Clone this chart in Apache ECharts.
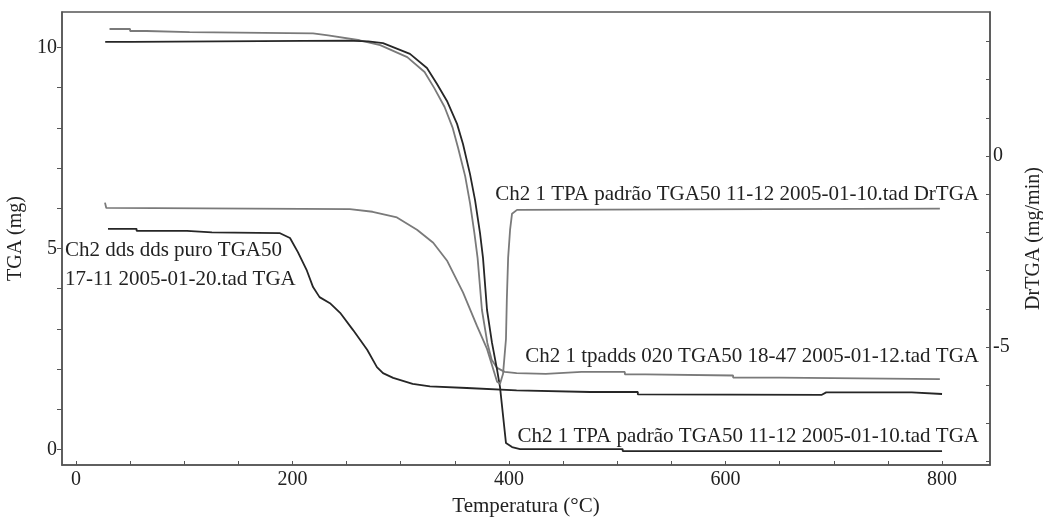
<!DOCTYPE html>
<html>
<head>
<meta charset="utf-8">
<script src="https://cdn.jsdelivr.net/npm/echarts@6/dist/echarts.min.js"></script>
<style>
  html, body { margin: 0; padding: 0; background: #fff; }
  #chart { width: 1043px; height: 518px; }
</style>
</head>
<body>
<div id="chart"></div>
<script>
// Ch2 1 tpadds 020 TGA (mg)
var tpaddsTemp = [31, 50, 50, 65, 65, 105, 105, 219, 219, 233, 262, 281, 306, 322, 331, 340.5, 348, 353, 359.5, 364, 368, 371, 375, 380, 384, 389, 396, 407, 434, 467, 507, 507, 526, 526, 607, 607, 650, 650, 798];
var tpaddsMass = [10.46, 10.46, 10.41, 10.41, 10.38, 10.38, 10.35, 10.35, 10.31, 10.30, 10.18, 10.06, 9.76, 9.39, 8.99, 8.52, 8.0, 7.5, 6.80, 6.13, 5.39, 4.76, 3.47, 2.65, 2.23, 2.03, 1.93, 1.90, 1.88, 1.93, 1.93, 1.87, 1.87, 1.84, 1.84, 1.79, 1.79, 1.75, 1.75];
// Ch2 1 TPA padrão TGA (mg)
var tpaTemp = [27, 51.5, 51.5, 250, 270, 283.6, 308.5, 324.2, 333.5, 342.7, 352, 357.5, 364, 368.6, 373.2, 376, 379.7, 384.3, 389, 391.7, 397.2, 402.8, 410.2, 505, 505, 800];
var tpaMass = [10.14, 10.14, 10.18, 10.17, 10.15, 10.11, 9.84, 9.49, 9.09, 8.67, 8.10, 7.60, 6.85, 6.21, 5.39, 4.76, 3.47, 2.65, 1.98, 1.55, 0.16, 0.06, 0.01, 0.01, -0.04, -0.04];
// Ch2 dds dds puro TGA (mg)
var ddsTemp = [29.6, 56, 56, 102.5, 102.5, 125.6, 125.6, 188.5, 197.7, 205, 213, 219, 225, 234.6, 244, 256, 269, 278, 283.6, 293, 311, 327, 361, 407, 475, 519, 519, 689, 693, 772, 772, 800];
var ddsMass = [5.49, 5.49, 5.44, 5.44, 5.40, 5.40, 5.38, 5.38, 5.26, 4.91, 4.47, 4.04, 3.79, 3.64, 3.40, 2.97, 2.48, 2.05, 1.90, 1.78, 1.63, 1.57, 1.53, 1.47, 1.43, 1.43, 1.37, 1.36, 1.42, 1.42, 1.38, 1.38];
// Ch2 1 TPA padrão DrTGA (mg/min)
var drTemp = [26.8, 28, 253, 274, 296.5, 315, 330, 343, 357.5, 370.4, 379.7, 389, 391.7, 394.5, 397.2, 398, 399.2, 401, 402.8, 407.4, 798];
var drRate = [-1.22, -1.36, -1.39, -1.46, -1.61, -1.93, -2.27, -2.75, -3.57, -4.45, -5.05, -5.91, -5.96, -5.70, -4.79, -3.75, -2.66, -1.93, -1.51, -1.41, -1.38];

var tempTicks = [0, 50, 100, 150, 200, 250, 300, 350, 400, 450, 500, 550, 600, 650, 700, 750, 800];
var tempLabels = [0, 200, 400, 600, 800];
var massTicks = [0, 1, 2, 3, 4, 5, 6, 7, 8, 9, 10];
var massLabels = [0, 5, 10];
var rateTicks = [-8, -7, -6, -5, -4, -3, -2, -1, 0, 1, 2, 3];
var rateLabels = [-5, 0];

function pairs(xs, ys) {
  return xs.map(function (x, i) { return [x, ys[i]]; });
}

var font = 'Liberation Serif';
var axisColor = '#555';
var textColor = '#222';
var dark = '#262626';
var gray = '#7a7a7a';
var noteFont = '21px "Liberation Serif"';

var chart = echarts.init(document.getElementById('chart'));

var option = {
  backgroundColor: '#fff',
  animation: false,
  textStyle: { fontFamily: font },
  grid: {
    left: 62,
    right: 53,
    top: 12,
    bottom: 53,
    outerBoundsMode: 'none',
    containLabel: false,
    show: true,
    borderColor: axisColor,
    borderWidth: 1.5
  },
  xAxis: {
    type: 'value',
    min: -12.9,
    max: 844.3,
    name: 'Temperatura (°C)',
    nameLocation: 'middle',
    nameGap: 31,
    nameTextStyle: { fontFamily: font, fontSize: 21, color: textColor },
    axisLine: { show: true, onZero: false, lineStyle: { color: axisColor, width: 1.5 } },
    axisTick: { inside: true, length: 4, customValues: tempTicks, lineStyle: { color: axisColor } },
    axisLabel: { customValues: tempLabels, margin: 5, fontFamily: font, fontSize: 20, color: textColor },
    splitLine: { show: false }
  },
  yAxis: [
    {
      type: 'value',
      position: 'left',
      min: -0.386,
      max: 10.883,
      name: 'TGA (mg)',
      nameLocation: 'middle',
      nameGap: 28,
      nameTextStyle: { fontFamily: font, fontSize: 20, color: textColor },
      axisLine: { show: true, onZero: false, lineStyle: { color: axisColor, width: 1.5 } },
      axisTick: { inside: false, length: 5, customValues: massTicks, lineStyle: { color: axisColor } },
      axisLabel: { customValues: massLabels, margin: 5, fontFamily: font, fontSize: 20, color: textColor },
      splitLine: { show: false }
    },
    {
      type: 'value',
      position: 'right',
      min: -8.09,
      max: 3.77,
      name: 'DrTGA (mg/min)',
      nameLocation: 'middle',
      nameGap: 34,
      nameTextStyle: { fontFamily: font, fontSize: 20, color: textColor },
      axisLine: { show: true, onZero: false, lineStyle: { color: axisColor, width: 1.5 } },
      axisTick: { inside: true, length: 4, customValues: rateTicks, lineStyle: { color: axisColor } },
      axisLabel: { customValues: rateLabels, margin: 3, fontFamily: font, fontSize: 20, color: textColor },
      splitLine: { show: false }
    }
  ],
  series: [
    {
      name: 'Ch2 1 tpadds 020 TGA50 18-47 2005-01-12.tad TGA',
      type: 'line', yAxisIndex: 0, showSymbol: false,
      lineStyle: { color: gray, width: 1.8 },
      data: pairs(tpaddsTemp, tpaddsMass)
    },
    {
      name: 'Ch2 1 TPA padrão TGA50 11-12 2005-01-10.tad TGA',
      type: 'line', yAxisIndex: 0, showSymbol: false,
      lineStyle: { color: dark, width: 1.8 },
      data: pairs(tpaTemp, tpaMass)
    },
    {
      name: 'Ch2 dds dds puro TGA50 17-11 2005-01-20.tad TGA',
      type: 'line', yAxisIndex: 0, showSymbol: false,
      lineStyle: { color: dark, width: 1.8 },
      data: pairs(ddsTemp, ddsMass)
    },
    {
      name: 'Ch2 1 TPA padrão TGA50 11-12 2005-01-10.tad DrTGA',
      type: 'line', yAxisIndex: 1, showSymbol: false,
      lineStyle: { color: gray, width: 1.8 },
      data: pairs(drTemp, drRate)
    }
  ],
  graphic: [
    { type: 'text', right: 64, top: 184, style: { text: 'Ch2 1 TPA padrão TGA50 11-12 2005-01-10.tad DrTGA', font: noteFont, fill: textColor } },
    { type: 'text', left: 65, top: 236, style: { text: 'Ch2 dds dds puro TGA50\n17-11 2005-01-20.tad TGA', font: noteFont, fill: textColor, align: 'center', lineHeight: 29 } },
    { type: 'text', right: 64, top: 346, style: { text: 'Ch2 1 tpadds 020 TGA50 18-47 2005-01-12.tad TGA', font: noteFont, fill: textColor } },
    { type: 'text', right: 64, top: 426, style: { text: 'Ch2 1 TPA padrão TGA50 11-12 2005-01-10.tad TGA', font: noteFont, fill: textColor } }
  ]
};

chart.setOption(option);
</script>
</body>
</html>
